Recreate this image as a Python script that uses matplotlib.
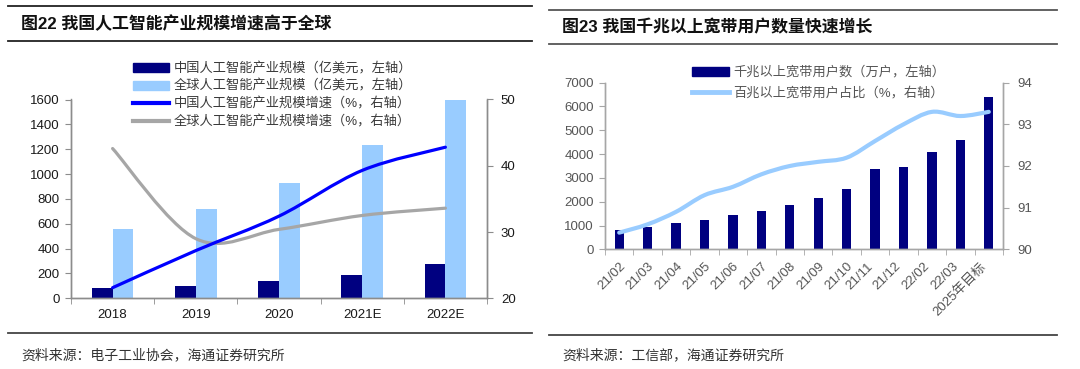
import numpy as np
import matplotlib

matplotlib.use("Agg")
import matplotlib.pyplot as plt
from matplotlib.path import Path
from matplotlib.patches import PathPatch, Patch
from matplotlib.lines import Line2D

plt.rcParams["font.family"] = ["Liberation Sans", "Noto Sans CJK SC"]

# left chart: AI industry size
ai_years = ["2018", "2019", "2020", "2021E", "2022E"]
ai_china_size = [80, 100, 137, 191, 275]
ai_global_size = [555, 719, 929, 1234, 1600]
ai_china_growth = [21.6, 27.2, 32.4, 39.3, 42.8]
ai_global_growth = [42.6, 29.0, 30.4, 32.5, 33.6]

# right chart: gigabit broadband users
bb_months = ["21/02", "21/03", "21/04", "21/05", "21/06", "21/07", "21/08",
             "21/09", "21/10", "21/11", "21/12", "22/02", "22/03", "2025年目标"]
bb_gigabit_users = [800, 950, 1090, 1220, 1430, 1610, 1860, 2140, 2530, 3390, 3460, 4090, 4610, 6400]
bb_100m_ratio = [90.4, 90.6, 90.9, 91.3, 91.5, 91.8, 92.0, 92.1, 92.2, 92.6, 93.0, 93.3, 93.2, 93.3]

NAVY = "#000080"
LIGHT = "#99CCFF"
BLUE = "#0000FF"
GRAY = "#A6A6A6"
W, H = 1080, 369


def fig_box(x0, y0, x1, y1):
    # pixel box (top-left origin) -> figure fraction rect
    return [x0 / W, 1 - y1 / H, (x1 - x0) / W, (y1 - y0) / H]


def smooth_line(ax, xs, ys, color, lw):
    pts = np.column_stack([xs, ys]).astype(float)
    n = len(pts)
    verts = [pts[0]]
    codes = [Path.MOVETO]
    for i in range(n - 1):
        p0 = pts[i - 1] if i > 0 else pts[i]
        p1, p2 = pts[i], pts[i + 1]
        p3 = pts[i + 2] if i + 2 < n else pts[i + 1]
        verts += [p1 + (p2 - p0) / 6, p2 - (p3 - p1) / 6, p2]
        codes += [Path.CURVE4] * 3
    ax.add_patch(PathPatch(Path(verts, codes), fill=False, edgecolor=color,
                           lw=lw, capstyle="round", joinstyle="round", clip_on=False))


def style_axes(ax, ax2, n, spine_color, label_color):
    for a in (ax, ax2):
        a.spines["top"].set_visible(False)
        for s in ("left", "right", "bottom"):
            a.spines[s].set_color(spine_color)
            a.spines[s].set_linewidth(1.0)
    ax.set_xlim(-0.5, n - 0.5)
    ax.set_xticks(np.arange(n))
    ax.set_xticks(np.arange(n + 1) - 0.5, minor=True)
    ax.tick_params(axis="x", which="major", length=0, labelsize=9.5, labelcolor=label_color)
    ax.tick_params(axis="x", which="minor", length=4, color=spine_color, direction="out")
    ax.tick_params(axis="y", length=4, color=spine_color, labelsize=9.5, labelcolor=label_color, pad=4)
    ax2.tick_params(axis="y", length=4, color=spine_color, labelsize=9.5, labelcolor=label_color, pad=6)


def header(x0, x1, y_top, y_bot, y_src, title, source, rule_color):
    fig.add_artist(Line2D([x0 / W, x1 / W], [1 - y_top / H] * 2, color=rule_color, lw=1.3))
    fig.add_artist(Line2D([x0 / W, x1 / W], [1 - y_bot / H] * 2, color=rule_color, lw=1.3))
    fig.text((x0 + 13) / W, 1 - (y_top + y_bot) / 2 / H, title, fontsize=12.2,
             fontweight="bold", va="center", ha="left", color="#111111")
    fig.text((x0 + 13) / W, 1 - y_src / H, source, fontsize=10, va="center",
             ha="left", color="#333333")


fig = plt.figure(figsize=(W / 100, H / 100), dpi=100)

# ---- left panel
ax1 = fig.add_axes(fig_box(71, 99.5, 487, 298.3))
ax1b = ax1.twinx()
x = np.arange(len(ai_years))
bw = 0.25
ax1.bar(x - bw / 2, ai_china_size, bw, color=NAVY, zorder=2)
ax1.bar(x + bw / 2, ai_global_size, bw, color=LIGHT, zorder=2)
ax1.set_ylim(0, 1600)
ax1.set_yticks(np.arange(0, 1601, 200))
ax1.set_xticklabels(ai_years)
ax1b.set_ylim(20, 50)
ax1b.set_yticks([20, 30, 40, 50])
smooth_line(ax1b, x, ai_global_growth, GRAY, 2.3)
smooth_line(ax1b, x, ai_china_growth, BLUE, 2.3)
style_axes(ax1, ax1b, len(ai_years), "#8C8C8C", "#1A1A1A")
ax1.tick_params(axis="x", which="major", pad=8)

left_handles = [
    Patch(color=NAVY, label="中国人工智能产业规模（亿美元，左轴）"),
    Patch(color=LIGHT, label="全球人工智能产业规模（亿美元，左轴）"),
    Line2D([], [], color=BLUE, lw=3, label="中国人工智能产业规模增速（%，右轴）"),
    Line2D([], [], color=GRAY, lw=3, label="全球人工智能产业规模增速（%，右轴）"),
]
fig.legend(handles=left_handles, loc="upper left", bbox_to_anchor=(133 / W, 1 - 62 / H),
           frameon=False, fontsize=9.5, handlelength=2.7, handletextpad=0.35,
           labelspacing=0.36, borderpad=0, borderaxespad=0, labelcolor="#3A3A3A")

# ---- right panel
ax2 = fig.add_axes(fig_box(605, 82.7, 1003, 249.3))
ax2b = ax2.twinx()
xm = np.arange(len(bb_months))
ax2.bar(xm, bb_gigabit_users, 0.33, color=NAVY, zorder=2)
ax2.set_ylim(0, 7000)
ax2.set_yticks([0, 1000, 2000, 3000, 4000, 5000, 6000, 7000])
ax2.set_xticklabels(bb_months, rotation=45, ha="right", rotation_mode="anchor")
ax2b.set_ylim(90, 94)
ax2b.set_yticks([90, 91, 92, 93, 94])
smooth_line(ax2b, xm, bb_100m_ratio, LIGHT, 3.0)
style_axes(ax2, ax2b, len(bb_months), "#A6A6A6", "#555555")
ax2.tick_params(axis="x", which="major", pad=8)

right_handles = [
    Patch(color=NAVY, label="千兆以上宽带用户数（万户，左轴）"),
    Line2D([], [], color=LIGHT, lw=3.5, label="百兆以上宽带用户占比（%，右轴）"),
]
fig.legend(handles=right_handles, loc="upper left", bbox_to_anchor=(692 / W, 1 - 66 / H),
           frameon=False, fontsize=9.5, handlelength=2.8, handletextpad=0.35,
           labelspacing=0.6, borderpad=0, borderaxespad=0, labelcolor="#555555")

header(8, 532, 6, 41, 355, "图22 我国人工智能产业规模增速高于全球",
       "资料来源：电子工业协会，海通证券研究所", "#222222")
header(549, 1057, 10, 44, 355, "图23 我国千兆以上宽带用户数量快速增长",
       "资料来源：工信部，海通证券研究所", "#555555")
fig.add_artist(Line2D([8 / W, 532 / W], [1 - 332.7 / H] * 2, color="#444444", lw=1.3))
fig.add_artist(Line2D([549 / W, 1057 / W], [1 - 335 / H] * 2, color="#444444", lw=1.3))

fig.savefig("out.png", dpi=100)
